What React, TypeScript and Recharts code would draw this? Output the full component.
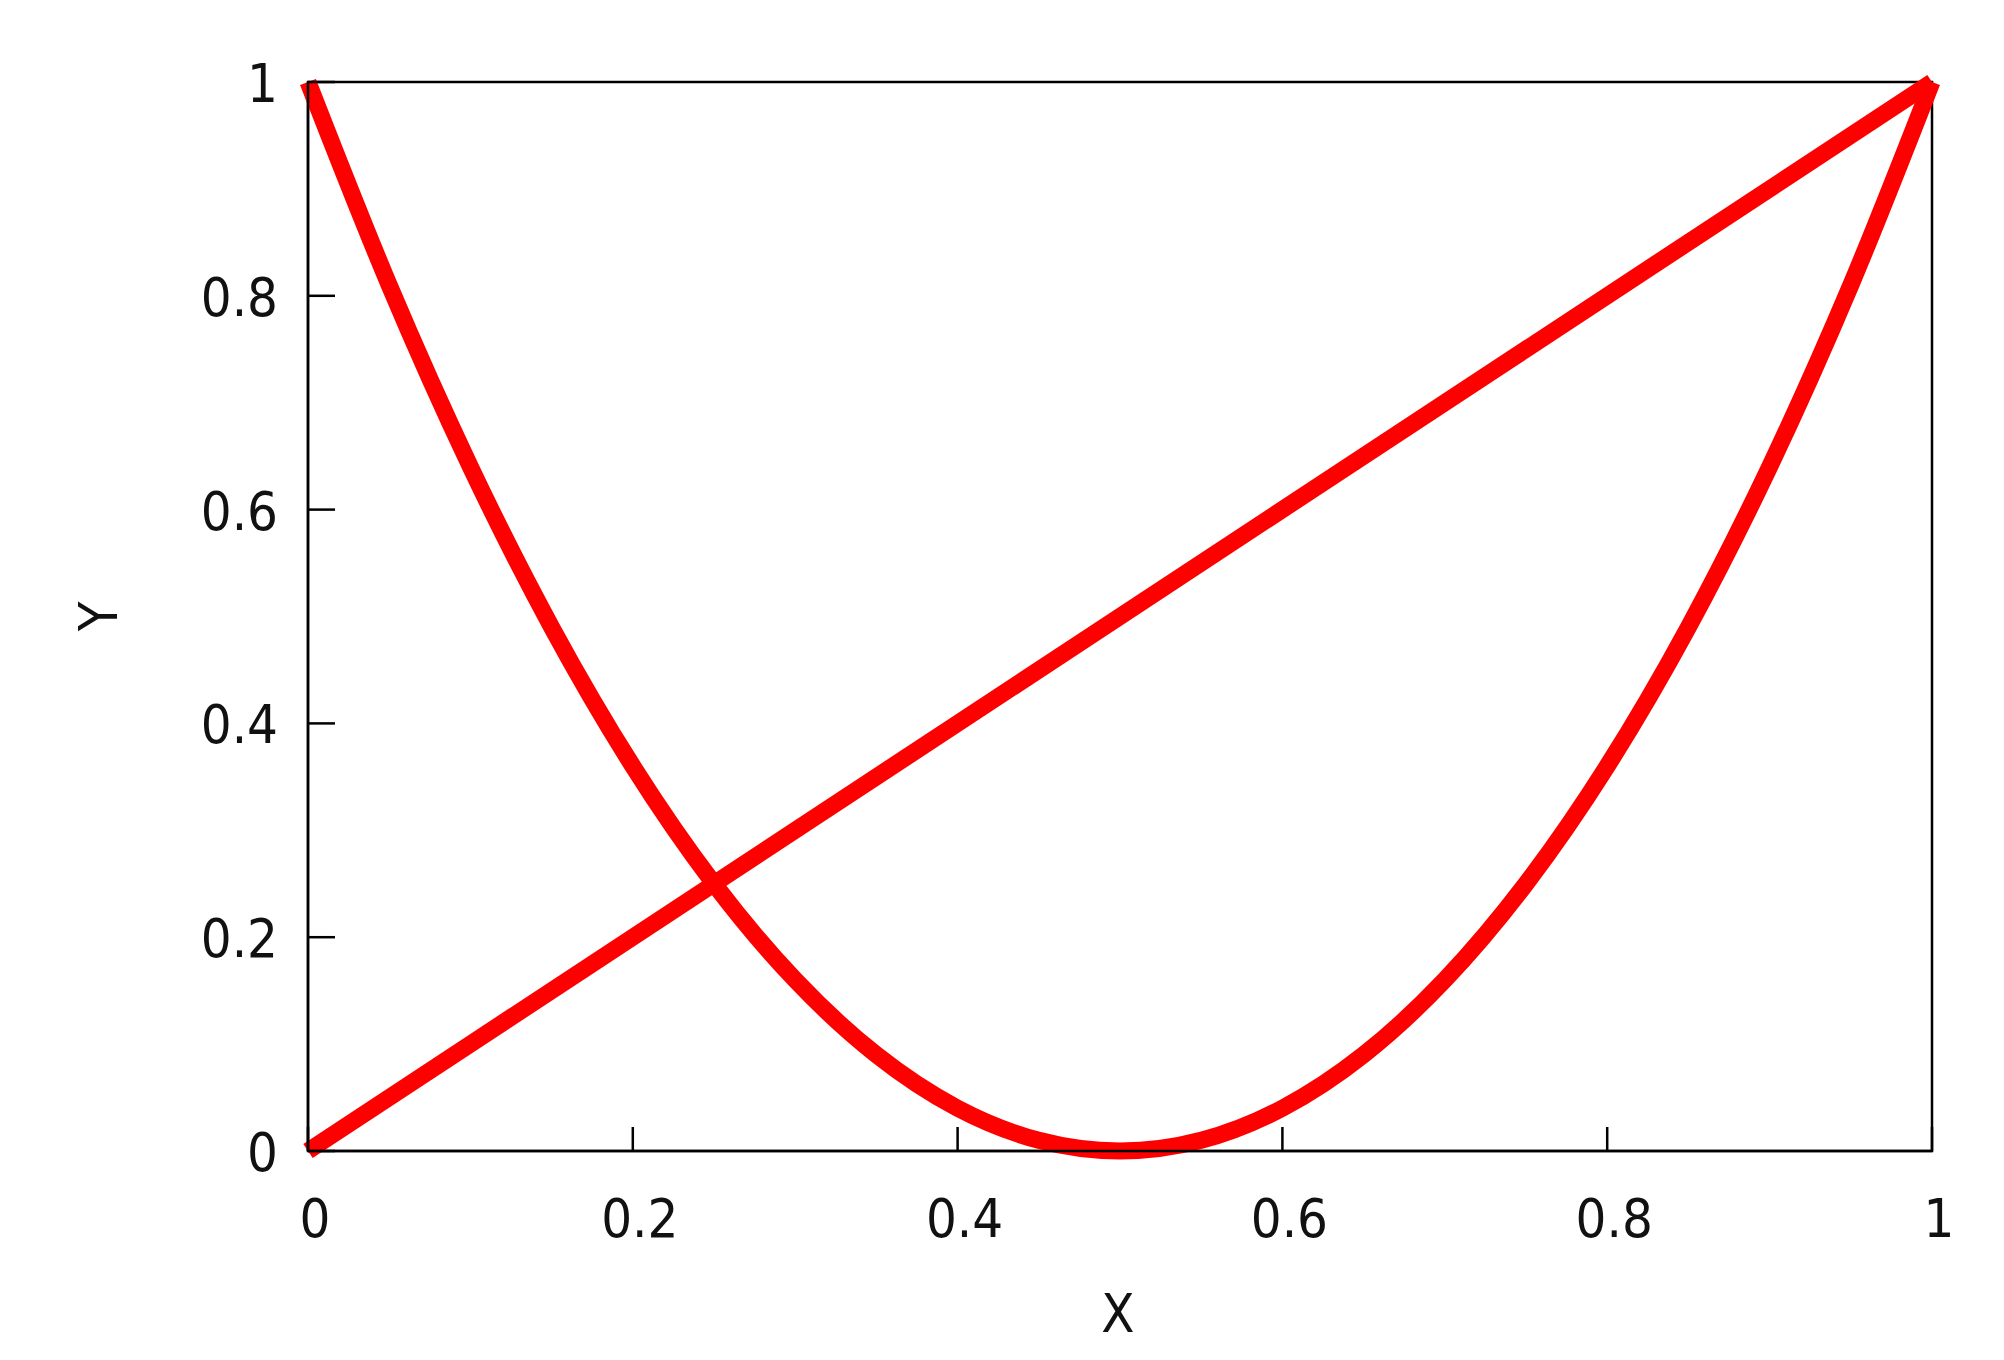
import { LineChart, Line, XAxis, YAxis, ReferenceArea } from 'recharts'

const xTicks = [0, 0.2, 0.4, 0.6, 0.8, 1]
const yTicks = [0, 0.2, 0.4, 0.6, 0.8, 1]

// curve
const curveX = [0, 0.05, 0.1, 0.15, 0.2, 0.25, 0.3, 0.35, 0.4, 0.45, 0.5, 0.55, 0.6, 0.65, 0.7, 0.75, 0.8, 0.85, 0.9, 0.95, 1]
const curveY = [1, 0.81, 0.64, 0.49, 0.36, 0.25, 0.16, 0.09, 0.04, 0.01, 0, 0.01, 0.04, 0.09, 0.16, 0.25, 0.36, 0.49, 0.64, 0.81, 1]

// straight line
const lineX = [0, 1]
const lineY = [0, 1]

const curveData = curveX.map((x, i) => ({ x, y: curveY[i] }))
const lineData = lineX.map((x, i) => ({ x, y: lineY[i] }))

const font = {
  fontFamily: '"DejaVu Sans Condensed", "DejaVu Sans", sans-serif',
  fontStretch: 'condensed',
  fontSize: 54,
  fill: '#111',
}

const XTick = ({ x, y, payload }: any) => (
  <g>
    <line x1={x} y1={y} x2={x} y2={y - 24} stroke="#000" strokeWidth={2.5} />
    <text x={x + 7} y={y + 86} textAnchor="middle" {...font}>
      {String(payload.value)}
    </text>
  </g>
)

const YTick = ({ x, y, payload }: any) => (
  <g>
    <line x1={x} y1={y} x2={x + 27} y2={y} stroke="#000" strokeWidth={2.5} />
    <text x={x - 30} y={y + 20} textAnchor="end" {...font}>
      {String(payload.value)}
    </text>
  </g>
)

export default function App() {
  return (
    <div style={{ position: 'absolute', left: 0, top: 0 }}>
      <LineChart
        width={1990}
        height={1350}
        margin={{ top: 82, right: 58, bottom: 0, left: 0 }}
      >
        <XAxis
          type="number"
          dataKey="x"
          domain={[0, 1]}
          ticks={xTicks}
          interval={0}
          height={199}
          tickSize={0}
          tickMargin={0}
          tickLine={false}
          axisLine={{ stroke: '#000', strokeWidth: 2.5 }}
          tick={<XTick />}
          label={{
            content: ({ viewBox }: any) => (
              <text
                x={viewBox.x + viewBox.width / 2 - 2}
                y={viewBox.y + 181}
                textAnchor="middle"
                {...font}
              >
                X
              </text>
            ),
          }}
        />
        <YAxis
          type="number"
          dataKey="y"
          domain={[0, 1]}
          ticks={yTicks}
          interval={0}
          width={308}
          tickSize={0}
          tickMargin={0}
          tickLine={false}
          axisLine={{ stroke: '#000', strokeWidth: 2.5 }}
          tick={<YTick />}
          label={{
            content: ({ viewBox }: any) => {
              const cx = 98
              const cy = viewBox.y + viewBox.height / 2
              return (
                <text
                  x={cx}
                  y={cy}
                  textAnchor="middle"
                  dominantBaseline="central"
                  transform={`rotate(-90 ${cx} ${cy})`}
                  {...font}
                >
                  Y
                </text>
              )
            },
          }}
        />
        <Line
          data={curveData}
          dataKey="y"
          type="monotone"
          stroke="#ff0000"
          strokeWidth={17}
          dot={false}
          isAnimationActive={false}
        />
        <Line
          data={lineData}
          dataKey="y"
          type="linear"
          stroke="#ff0000"
          strokeWidth={17}
          dot={false}
          isAnimationActive={false}
        />
        <ReferenceArea
          x1={0}
          x2={1}
          y1={0}
          y2={1}
          fill="none"
          stroke="#000"
          strokeWidth={2.5}
          ifOverflow="visible"
        />
      </LineChart>
    </div>
  )
}
